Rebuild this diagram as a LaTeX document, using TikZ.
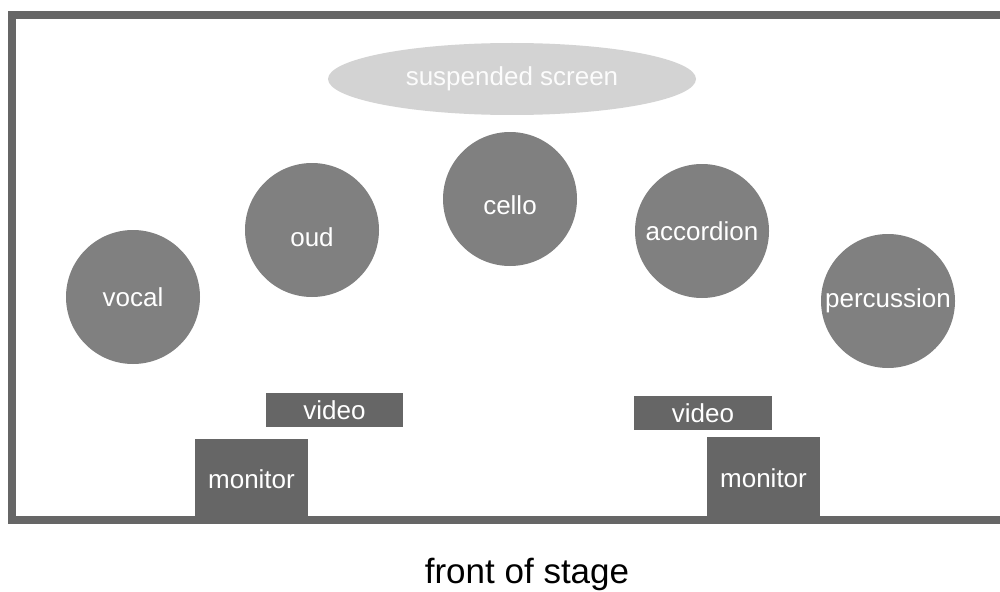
\documentclass[tikz,border=0pt]{standalone}
\usepackage{fontspec}
\setmainfont{Liberation Sans}
\usetikzlibrary{shapes.geometric}
\definecolor{stagegray}{HTML}{666666}
\definecolor{playergray}{HTML}{808080}
\definecolor{screengray}{HTML}{D3D3D3}

\begin{document}
\begin{tikzpicture}[x=1pt,y=-1pt,
  player/.style={circle,fill=playergray,minimum size=134pt,inner sep=0pt,
    text=white,font=\fontsize{26}{30}\selectfont},
  gear/.style={rectangle,fill=stagegray,inner sep=0pt,
    text=white,font=\fontsize{26}{30}\selectfont},
  screen/.style={ellipse,fill=screengray,minimum width=368pt,minimum height=72pt,
    inner sep=0pt,text=white!94!screengray,font=\fontsize{26}{30}\selectfont}]
\useasboundingbox (0,0) rectangle (1000,591);
\clip (0,0) rectangle (1000,591);

% stage outline
\draw[stagegray,line width=8pt] (12,15) rectangle (1030,520);

\node[screen] (screen) at (512,79) {suspended screen};

\node[player] (vocal) at (133,297) {vocal};
\node[player] (oud) at (312,230) {};
\node[player] (cello) at (510,199) {};
\node[player] (accordion) at (702,231) {accordion};
\node[player] (percussion) at (888,301) {percussion};
\node[text=white,font=\fontsize{26}{30}\selectfont] (oudtext) at (312,237) {oud};
\node[text=white,font=\fontsize{26}{30}\selectfont] (cellotext) at (510,205) {cello};

\node[gear,minimum width=137pt,minimum height=34pt] (videoL) at (334.5,410) {video};
\node[gear,minimum width=138pt,minimum height=34pt] (videoR) at (703,413) {video};
\node[gear,minimum width=113pt,minimum height=80pt] (monitorL) at (251.5,479) {monitor};
\node[gear,minimum width=113pt,minimum height=82pt] (monitorR) at (763.5,478) {monitor};

\node[font=\fontsize{35}{40}\selectfont] (front) at (527,574) {front of stage};
\end{tikzpicture}
\end{document}
